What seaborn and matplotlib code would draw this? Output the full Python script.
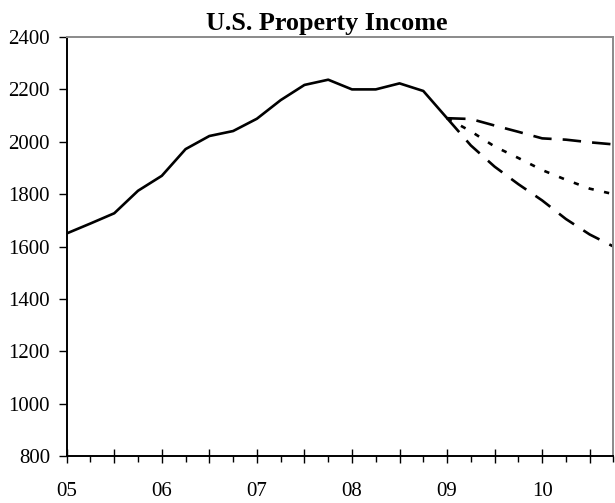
import matplotlib
matplotlib.use("Agg")
import matplotlib.pyplot as plt
import seaborn as sns
import pandas as pd
import numpy as np

# quarterly index: 0 = 2005Q1 ... 23 = 2010Q4
actual_q = list(range(0, 17))
actual = [1650, 1688, 1727, 1813, 1870, 1972, 2022, 2041, 2088, 2159,
          2217, 2237, 2200, 2200, 2223, 2194, 2090]

fcst_q = list(range(16, 24))
high = [2090, 2087, 2062, 2038, 2013, 2008, 1998, 1990]
mid = [2090, 2040, 1982, 1938, 1892, 1855, 1821, 1800]
low = [2090, 1986, 1905, 1838, 1776, 1705, 1646, 1600]

year_labels = ["05", "06", "07", "08", "09", "10"]

df = pd.concat([
    pd.DataFrame({"q": actual_q, "v": actual, "series": "Actual"}),
    pd.DataFrame({"q": fcst_q, "v": high, "series": "High"}),
    pd.DataFrame({"q": fcst_q, "v": mid, "series": "Mid"}),
    pd.DataFrame({"q": fcst_q, "v": low, "series": "Low"}),
])

sns.set_style("ticks")
plt.rcParams["font.family"] = ["Liberation Serif", "DejaVu Serif"]
plt.rcParams["text.color"] = "black"
plt.rcParams["xtick.color"] = "black"
plt.rcParams["ytick.color"] = "black"

fig = plt.figure(figsize=(6.15, 5.03), dpi=100)
ax = fig.add_axes([0.1085, 0.0934, 0.889, 0.833])

dashes = {"Actual": "", "High": (7.0, 4.2), "Mid": (2.0, 4.0), "Low": (7.0, 4.2)}
sns.lineplot(data=df, x="q", y="v", style="series", dashes=dashes,
             color="black", linewidth=1.9, legend=False, ax=ax,
             estimator=None, sort=False)

ax.set_xlim(0, 23)
ax.set_ylim(800, 2400)
ax.set_yticks(np.arange(800, 2401, 200))
ax.set_xticks(range(0, 24, 2))
ax.set_xticklabels([year_labels[i // 2] if i % 2 == 0 else "" for i in range(12)])
ax.set_xticks(range(0, 24), minor=True)
ax.set_xlabel("")
ax.set_ylabel("")

ax.tick_params(axis="y", direction="out", length=6, width=1, pad=6,
               labelsize=15, labelcolor="black")
ax.tick_params(axis="x", which="major", direction="inout", length=10, width=1,
               pad=14, labelsize=15, labelcolor="black")
ax.tick_params(axis="x", which="minor", direction="out", length=4, width=1)

for side in ["left", "bottom"]:
    ax.spines[side].set_color("black")
    ax.spines[side].set_linewidth(1.4)
for side in ["top", "right"]:
    ax.spines[side].set_color("#8a8a8a")
    ax.spines[side].set_linewidth(1.4)

ax.set_title("U.S. Property Income", fontsize=18.8, fontweight="bold",
             color="black", pad=5, x=0.475)

fig.savefig("out.png", dpi=100)
